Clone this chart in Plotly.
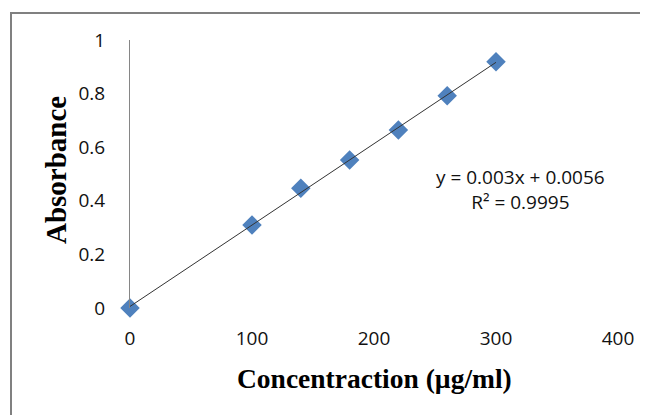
import numpy as np
import plotly.graph_objects as go

# Data
concentration = [0, 100, 140, 180, 220, 260, 300]
absorbance = [0.0, 0.31, 0.447, 0.552, 0.664, 0.792, 0.919]
x_ticks = [0, 100, 200, 300, 400]
x_tick_labels = ["0", "100", "200", "300", "400"]
y_ticks = [0, 0.2, 0.4, 0.6, 0.8, 1]
y_tick_labels = ["0", "0.2", "0.4", "0.6", "0.8", "1"]
x_title = "Concentraction (µg/ml)"
y_title = "Absorbance"
equation_text = "y = 0.003x + 0.0056"
r2_text = "R² = 0.9995"

# The page body has an 8px margin, so the figure is drawn 8px in from the window edge
OFF = 8
W, H = 648 - OFF, 415 - OFF
L, R, T, B = 130 - OFF, 30, 40 - OFF, 107
pw, ph = W - L - R, H - T - B

def px(xs):
    # window x pixel -> paper coordinate
    return (xs - OFF - L) / pw

def py(ys):
    # window y pixel -> paper coordinate
    return (H - B - (ys - OFF)) / ph

# Trendline from least squares fit of the data
slope, intercept = np.polyfit(concentration, absorbance, 1)
tx = [min(concentration), max(concentration)]
ty = [slope * v + intercept for v in tx]

fig = go.Figure()
fig.add_trace(go.Scatter(
    x=concentration, y=absorbance, mode="markers",
    marker=dict(symbol="diamond", size=15, color="#4F81BD",
                line=dict(width=0)),
    cliponaxis=False,
    showlegend=False,
))
fig.add_trace(go.Scatter(
    x=tx, y=ty, mode="lines",
    line=dict(color="#333333", width=1),
    cliponaxis=False,
    showlegend=False,
))

tick_font = dict(family="Open Sans", size=19, color="#111111")

fig.update_layout(
    width=W, height=H,
    margin=dict(l=L, r=R, t=T, b=B, autoexpand=False),
    paper_bgcolor="white", plot_bgcolor="white",
    xaxis=dict(range=[0, 400], tickvals=x_ticks, ticktext=x_tick_labels,
               showgrid=False, automargin=False,
               zeroline=False, showline=False, ticks="",
               ticklabelstandoff=17, tickfont=tick_font),
    yaxis=dict(range=[0, 1], tickvals=y_ticks, ticktext=y_tick_labels,
               showgrid=False, automargin=False,
               zeroline=False, showline=True, linecolor="#868686", linewidth=1,
               ticks="", ticklabelstandoff=20, tickfont=tick_font),
    shapes=[
        dict(type="path", xref="paper", yref="paper",
             path=f"M {px(11)} {py(430)} L {px(11)} {py(13)} L {px(660)} {py(13)}",
             line=dict(color="#808080", width=2)),
    ],
    annotations=[
        dict(xref="paper", yref="paper", x=px(520), y=py(189),
             text=equation_text + "<br>" + r2_text, showarrow=False,
             align="center", xanchor="center", yanchor="middle",
             font=dict(family="Open Sans", size=19, color="#111111")),
        dict(xref="paper", yref="paper", x=px(374), y=py(378),
             text=f"<b>{x_title}</b>", showarrow=False,
             xanchor="center", yanchor="middle",
             font=dict(family="Liberation Serif", size=27.5, color="#000000")),
        dict(xref="paper", yref="paper", x=px(56), y=py(170),
             text=f"<b>{y_title}</b>", showarrow=False, textangle=-90,
             xanchor="center", yanchor="middle",
             font=dict(family="Liberation Serif", size=29, color="#000000")),
    ],
)

fig.write_html("out.html")
